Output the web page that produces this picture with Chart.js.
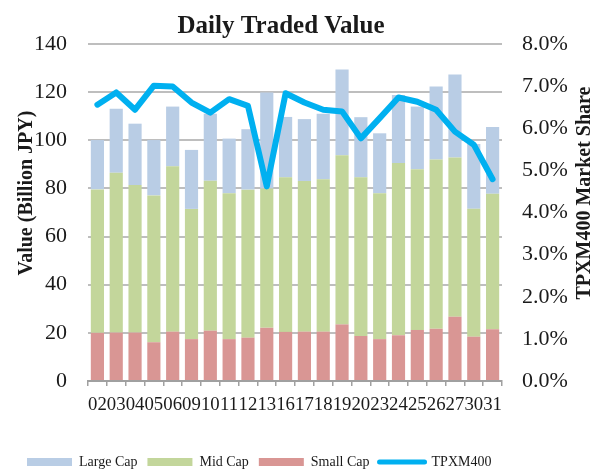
<!DOCTYPE html>
<html>
<head>
<meta charset="utf-8">
<script src="https://cdn.jsdelivr.net/npm/chart.js@4.4.1/dist/chart.umd.min.js"></script>
<style>
  html,body{margin:0;padding:0;background:#fff;}
</style>
</head>
<body>
<canvas id="chart" width="603" height="473"></canvas>
<script>
// trading days of the month
const days = ['02','03','04','05','06','09','10','11','12','13','16','17','18','19','20','23','24','25','26','27','30','31'];
// value traded, billion JPY (segment values, stacked bottom -> top)
const smallCap = [20.0,20.1,20.1,16.1,20.5,17.4,20.9,17.4,18.0,22.1,20.4,20.5,20.5,23.5,18.7,17.4,19.0,21.2,21.7,26.7,18.4,21.5];
const midCap   = [59.6,66.4,61.3,61.0,68.7,54.1,62.3,60.6,61.5,57.9,64.2,62.6,63.3,70.3,65.9,60.6,71.6,66.8,70.3,66.2,53.2,56.3];
const largeCap = [20.5,26.6,25.5,23.0,24.8,24.5,27.8,22.7,25.1,39.8,25.1,25.7,27.2,35.6,25.0,24.9,28.2,26.0,30.3,34.4,26.9,27.7];
// TPXM400 market share, %
const tpxmShare = [6.56,6.85,6.44,7.01,6.99,6.61,6.37,6.69,6.53,4.62,6.83,6.61,6.44,6.40,5.76,6.24,6.73,6.63,6.44,5.92,5.61,4.79];

const serif = "'Liberation Serif', 'Times New Roman', serif";
const ink = '#1a1a1a';
const legendOrder = ['Large Cap','Mid Cap','Small Cap','TPXM400'];

const titles = {
  id:'titles',
  afterDraw(chart){
    const c = chart.ctx;
    c.save();
    c.fillStyle = ink;
    c.textAlign = 'center';
    c.textBaseline = 'alphabetic';
    c.font = `bold 25px ${serif}`;
    c.fillText('Daily Traded Value', 281, 33);
    c.font = `bold 20px ${serif}`;
    c.textBaseline = 'middle';
    [[27,'Value (Billion JPY)'],[585,'TPXM400 Market Share']].forEach(([x,t])=>{
      c.save(); c.translate(x,193); c.rotate(-Math.PI/2); c.fillText(t,0,0); c.restore();
    });
    c.restore();
  }
};

new Chart(document.getElementById('chart'), {
  data:{
    labels:days,
    datasets:[
      {type:'line', label:'TPXM400', data:tpxmShare, yAxisID:'y1', order:0,
        borderColor:'#00B0F0', backgroundColor:'#00B0F0', borderWidth:6, pointRadius:0,
        tension:0, borderJoinStyle:'round', borderCapStyle:'round'},
      {type:'bar', label:'Small Cap', data:smallCap, backgroundColor:'#D99694', order:1, stack:'v'},
      {type:'bar', label:'Mid Cap', data:midCap, backgroundColor:'#C3D69B', order:1, stack:'v'},
      {type:'bar', label:'Large Cap', data:largeCap, backgroundColor:'#B9CDE5', order:1, stack:'v'}
    ]
  },
  options:{
    responsive:false, animation:false,
    layout:{padding:{top:44, left:17, right:0, bottom:-6}},
    datasets:{bar:{barPercentage:0.7, categoryPercentage:1, borderWidth:0}},
    plugins:{
      tooltip:{enabled:false},
      legend:{
        position:'bottom', align:'start',
        labels:{
          font:{family:serif, size:14}, color:ink, padding:10,
          usePointStyle:true, pointStyleWidth:45, boxHeight:8,
          generateLabels:(chart)=>Chart.defaults.plugins.legend.labels.generateLabels(chart).map(it=>{
            if(it.text==='TPXM400'){ it.pointStyle='line'; it.lineWidth=5; it.lineCap='round'; }
            else { it.pointStyle='rect'; it.lineWidth=0; }
            return it;
          }),
          sort:(a,b)=>legendOrder.indexOf(a.text)-legendOrder.indexOf(b.text)
        }
      }
    },
    scales:{
      x:{
        stacked:true, offset:true,
        afterFit:s=>{ s.height = 64; },
        grid:{drawOnChartArea:false, drawTicks:true, tickLength:5, color:'#A0A0A0', lineWidth:1.5},
        border:{display:true, color:'#A0A0A0', width:2},
        ticks:{font:{family:serif, size:18.8}, color:ink, padding:8, autoSkip:false, maxRotation:0, minRotation:0}
      },
      y:{
        stacked:true, position:'left', min:0, max:140,
        afterFit:s=>{ s.width = 71; },
        grid:{color:'#BEBEBE', lineWidth:2, drawTicks:false},
        border:{display:false},
        ticks:{stepSize:20, font:{family:serif, size:22}, color:ink, padding:21}
      },
      y1:{
        position:'right', min:0, max:8,
        afterFit:s=>{ s.width = 101; },
        grid:{drawOnChartArea:false, drawTicks:false},
        border:{display:false},
        ticks:{stepSize:1, font:{family:serif, size:22}, color:ink, padding:20,
          callback:v=>v.toFixed(1)+'%'}
      }
    }
  },
  plugins:[titles]
});
</script>
</body>
</html>
